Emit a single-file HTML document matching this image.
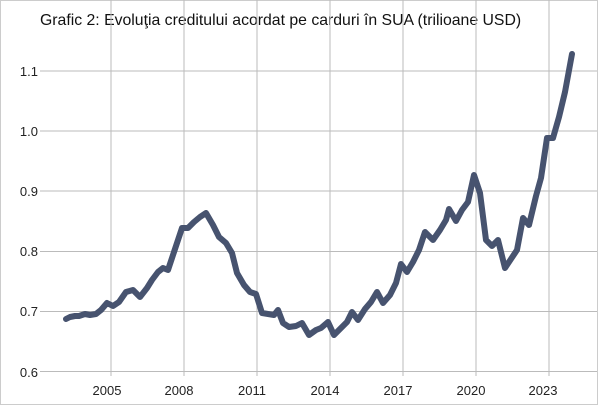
<!DOCTYPE html>
<html><head><meta charset="utf-8"><style>
body{margin:0;background:#fff;}
svg{display:block;font-family:"Liberation Sans",sans-serif;}
</style></head><body>
<svg width="600" height="406" viewBox="0 0 600 406">
<rect x="0" y="0" width="600" height="406" fill="#fff"/>
<rect x="0.5" y="0.5" width="597" height="404" fill="none" stroke="#ccc"/>
<text x="40" y="25" font-size="15.8" fill="#111">Grafic 2: Evoluţia creditului acordat pe carduri în SUA (trilioane USD)</text>
<g stroke="#bbb" stroke-width="1">
<line x1="40" x2="597" y1="71" y2="71"/><line x1="40" x2="597" y1="131" y2="131"/>
<line x1="40" x2="597" y1="191" y2="191"/><line x1="40" x2="597" y1="251.5" y2="251.5"/>
<line x1="40" x2="597" y1="311.5" y2="311.5"/><line x1="40" x2="597" y1="371.5" y2="371.5"/>
<line y1="0" y2="376" x1="111" x2="111"/><line y1="0" y2="376" x1="184" x2="184"/>
<line y1="0" y2="376" x1="257" x2="257"/><line y1="0" y2="376" x1="330" x2="330"/>
<line y1="0" y2="376" x1="403" x2="403"/><line y1="0" y2="376" x1="476" x2="476"/>
<line y1="0" y2="376" x1="549" x2="549"/>
</g>
<g font-size="13" fill="#222" text-anchor="end">
<text x="38" y="76">1.1</text><text x="38" y="136">1.0</text><text x="38" y="196">0.9</text>
<text x="38" y="256">0.8</text><text x="38" y="316">0.7</text><text x="38" y="377">0.6</text>
</g>
<g font-size="13" fill="#222" text-anchor="middle">
<text x="107" y="395">2005</text><text x="179" y="395">2008</text><text x="252" y="395">2011</text>
<text x="325" y="395">2014</text><text x="398" y="395">2017</text><text x="471" y="395">2020</text><text x="543" y="395">2023</text>
</g>
<polyline fill="none" stroke="#47536f" stroke-width="6" stroke-linejoin="round" stroke-linecap="round" points="66,319 70,317 75,316 79,316 85,314 90,315 96,314 101,310 107,303 113,306 119,302 126,292 133,290 140,297 147,288 152,280 158,272 163,268 168,270 174,252 182,228 188,228 194,222 200,217 206,213 213,225 219,237 226,243 232,253 237,273 244,285 250,292 256,294 262,313 268,314 274,315 278,310 283,323 289,327 296,326 302,323 309,335 316,330 321,328 328,322 334,335 341,328 347,322 352,312 358,320 365,309 371,302 377,292 383,303 390,295 396,283 401,264 407,272 413,262 419,250 425,232 433,240 440,230 446,220 449,209 456,221 462,210 468,202 474,175 480,193 486,240 492,246 498,240 505,268 511,259 517,250 523,218 529,225 536,196 541,178 547,138 553,138 559,117 565,92 572,54"/>
</svg>
</body></html>
